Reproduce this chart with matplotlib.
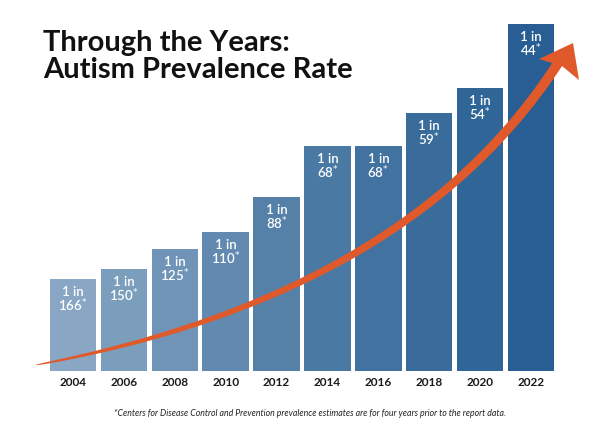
import numpy as np
import matplotlib
matplotlib.use("Agg")
import matplotlib.pyplot as plt
from matplotlib.patches import Polygon
from matplotlib.colors import LinearSegmentedColormap

# data
years = ["2004", "2006", "2008", "2010", "2012", "2014", "2016", "2018", "2020", "2022"]
one_in = [166, 150, 125, 110, 88, 68, 68, 59, 54, 44]
bar_heights = [92, 102, 122, 139, 174, 225, 225, 258, 283, 347]

footnote = "*Centers for Disease Control and Prevention prevalence estimates are for four years prior to the report data."

plt.rcParams['font.family'] = ['Lato', 'DejaVu Sans']

fig = plt.figure(figsize=(6, 4.28), dpi=100)
fig.patch.set_facecolor("white")

ax = fig.add_axes([47.5 / 600, 57 / 428, 509 / 600, 350 / 428])
cmap = LinearSegmentedColormap.from_list("blues", ["#89a7c4", "#4e7ca6", "#285e93"])
x = np.arange(len(years))
colors = [cmap(i / (len(years) - 1)) for i in range(len(years))]
ax.bar(x, bar_heights, width=0.91, color=colors, zorder=1)
ax.set_xlim(-0.5, len(years) - 0.5)
ax.set_ylim(0, 350)
ax.axis("off")

for xi, h, n in zip(x, bar_heights, one_in):
    ax.text(xi, h - 7, "1 in", ha="center", va="top", color="white",
            fontsize=9.5, fontweight="semibold", zorder=3)
    ax.text(xi, h - 18, f"{n}$^{{*}}$", ha="center", va="top", color="white",
            fontsize=9.5, fontweight="semibold", zorder=3)
    ax.text(xi, -6, years[xi], ha="center", va="top", color="#1a1a1a",
            fontsize=8.5, fontweight="bold")

# overlay in pixel coordinates for the arrow
ov = fig.add_axes([0, 0, 1, 1])
ov.set_xlim(0, 600)
ov.set_ylim(428, 0)
ov.axis("off")
ov.patch.set_alpha(0)

p0 = np.array([36, 365.0])
p1 = np.array([410, 295.0])
p2 = np.array([560, 60.0])
t = np.linspace(0, 1, 120)
pts = ((1 - t) ** 2)[:, None] * p0 + (2 * (1 - t) * t)[:, None] * p1 + (t ** 2)[:, None] * p2
d = np.gradient(pts, axis=0)
d /= np.linalg.norm(d, axis=1)[:, None]
nrm = np.stack([-d[:, 1], d[:, 0]], axis=1)
w = (0.5 + 9.5 * np.sqrt(t)) / 2
upper = pts + nrm * w[:, None]
lower = pts - nrm * w[:, None]
body = np.vstack([upper, lower[::-1]])
orange = "#e0592a"
ov.add_patch(Polygon(body, closed=True, facecolor=orange, edgecolor="none", zorder=5))
head = [(573, 43), (579, 80), (562, 66), (539, 59)]
ov.add_patch(Polygon(head, closed=True, facecolor=orange, edgecolor="none", zorder=5))

fig.text(43 / 600, 1 - 78 / 428, "Through the Years:\nAutism Prevalence Rate",
         ha="left", va="baseline", fontsize=21, fontweight="bold", color="#111111",
         linespacing=1.05)
fig.text(310 / 600, 1 - 413 / 428, footnote, ha="center", va="center",
         fontsize=6.3, style="italic", color="#222222")

fig.savefig("out.png", dpi=100)
